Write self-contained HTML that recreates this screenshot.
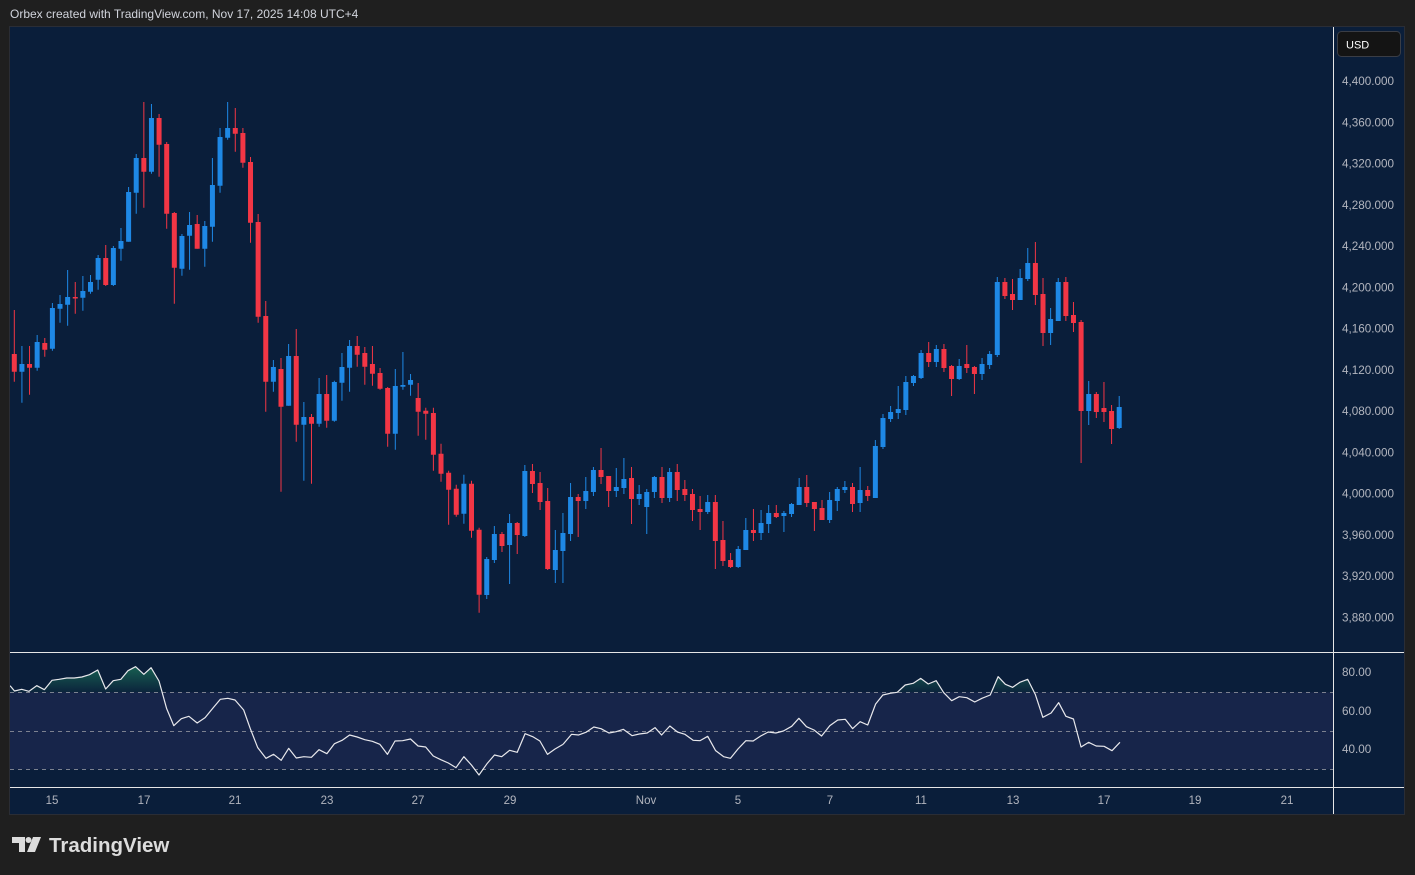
<!DOCTYPE html>
<html><head><meta charset="utf-8"><style>
html,body{margin:0;padding:0;background:#1f1f1f;}
svg{display:block;}
text{font-family:"Liberation Sans",sans-serif;}
</style></head><body>
<svg width="1415" height="875" viewBox="0 0 1415 875" xmlns="http://www.w3.org/2000/svg">
<defs>
<clipPath id="mainclip"><rect x="10" y="27" width="1323" height="625"/></clipPath>
<clipPath id="rsiclip"><rect x="10" y="653" width="1323" height="134"/></clipPath>
<clipPath id="above70"><rect x="-20" y="0" width="1620" height="112"/></clipPath>
<linearGradient id="gfill" gradientUnits="userSpaceOnUse" x1="0" y1="30" x2="0" y2="112">
<stop offset="0" stop-color="#27a86b" stop-opacity="0.5"/>
<stop offset="1" stop-color="#27a86b" stop-opacity="0.04"/>
</linearGradient>
</defs>
<rect x="0" y="0" width="1415" height="875" fill="#1f1f1f"/>
<text x="10" y="18" font-size="12" fill="#d1d4dc">Orbex created with TradingView.com, Nov 17, 2025 14:08 UTC+4</text>
<!-- frame -->
<rect x="9" y="26" width="1396" height="789" fill="#2a2d35"/>
<rect x="10" y="27" width="1394" height="787" fill="#0a1e3a"/>
<!-- RSI band -->
<rect x="10" y="692.3" width="1323" height="77" fill="#17254a"/>
<g stroke="#7c8190" stroke-width="1" stroke-dasharray="4 4">
<line x1="10" y1="692.5" x2="1333" y2="692.5"/>
<line x1="10" y1="731.5" x2="1333" y2="731.5"/>
<line x1="10" y1="769.5" x2="1333" y2="769.5"/>
</g>
<!-- candles -->
<g clip-path="url(#mainclip)">
<g transform="translate(6.68 0) scale(7.62 1)" fill="none">
<path stroke="#1e88e5" stroke-width="0.1312" d="M2 346V402.7M4 335V370.7M6 303V350.7M7 295V322.7M8 270V325.7M10 276V310.7M11 275V293.7M12 255V289.7M14 246V286M15 228V260.7M16 187V241.7M17 154V213.7M19 104V173.7M23 234V275.7M24 212V269.7M26 221V266.7M27 158V241.7M28 128V192.7M29 102V139.7M35 360V391.7M37 344V405.7M39 402V480.7M41 378V426.7M43 380.7V421.7M44 353V400.7M45 340V391.7M51 369V449.7M52 352V389.7M53 374V395.7M60 474.7V523.7M63 557V599M64 526V563M66 514V584M68 465V537M72 530V583M73 513V583M74 483V541M76 477V509M77 467V496M80 468V497M81 458V494M83 485V505M84 489V534M85 476V498M87 468V502M92 495V514M96 546V568M97 518V550M99 510V540M100 505V533M102 511V532M103 503V517M104 478V505M108 492V523M109 487V511M110 481V493M112 467V512M114 440V498M115 414V449M116 406V422M117 386V419M118 376V415M119 375V386M120 350V379M122 345V367M125 359V380M128 358V380M129 351V369M130 277V357M133 269V300M134 248V281M137 308V345M138 278V321M142 381V425M146 396V429"/>
<path stroke="#1e88e5" stroke-width="0.6562" d="M2 364V371.7M4 342V367.7M6 308V348.7M7 304V308.7M8 297V304.7M10 291V297.7M11 282V291.7M12 258V279.7M14 248V285M15 241V248.7M16 192V241.7M17 158V192.7M19 118V171.7M23 236V268.7M24 225V235.7M26 226V248.7M27 185V226.7M28 137V185.7M29 128V137.7M35 367V381.7M37 356V405.7M39 417V424.7M41 394V423.7M43 382V420.7M44 367V382.7M45 346V367.7M51 386V433.7M52 385V386.7M53 380V384.7M60 483.7V513.7M63 559V595M64 534V560M66 523V545M68 471V536M72 550V570M73 533V551M74 497V534M76 491V501M77 470V492M80 487V491M81 479V488M83 494V499M84 492V507M85 477V492M87 472V498M92 502V512M96 549V567M97 530V550M99 523V533M100 513V524M102 513V516M103 504V514M104 487V505M108 500V520M109 489V501M110 487V490M112 490V503M114 446V498M115 418V447M116 412V419M117 409V413M118 382V410M119 376V383M120 353V378M122 349V362M125 366V379M128 364V374M129 354V365M130 282V355M133 278V300M134 263V279M137 319V333M138 282V321M142 394V411M146 407V428"/>
<path stroke="#f23645" stroke-width="0.1312" d="M1 310V381.7M3 346V394.7M5 338V356.7M9 282V313.7M13 245V286M18 102V207.7M20 114V176.7M21 142V228.7M22 212V303.7M25 215V248.7M30 108V151.7M31 128V167.7M32 157V242.7M33 214V322.7M34 301V411.7M36 358V491.7M38 329V441.7M40 414V483.7M42 375V427.7M46 336V366.7M47 347V384.7M48 346V385.7M49 368V389.7M50 387V446.7M54 383V435.7M55 407.7V439.7M56 407.7V470.7M57 443.7V481.7M58 470.7V524.7M59 484.7V516.7M61 480.7V537.7M62 527.7V612.7M65 532V552M67 522V554M69 464V493M70 472V510M71 488V570M75 494V537M78 448V484M79 476V507M82 467V524M86 467V503M88 464V501M89 480V501M90 489V521M91 496V530M93 495V569M94 521V566M95 553V568M98 509V541M101 505V518M105 475V507M106 502V531M107 500V520M111 483V512M113 486V501M121 342V367M123 344V372M124 365V396M126 345V373M127 366V394M131 278V299M132 279V310M135 242V305M136 278V346M139 277V321M140 302V332M141 320V463M143 392V418M144 382V422M145 405V444"/>
<path stroke="#f23645" stroke-width="0.6562" d="M1 354V371.7M3 364V367.7M5 343V349.7M9 297V298.5M13 258V285M18 158V171.7M20 118V144.7M21 144V213.7M22 213V267.7M25 224V248.7M30 128V133.7M31 133V162.7M32 162V222.7M33 222V316.7M34 316V381.7M36 369V406.7M38 356V424.7M40 417V423.7M42 394V420.7M46 346V354.7M47 353V366.7M48 364V373.7M49 373V388.7M50 388V433.7M54 398V411.7M55 410.7V413.7M56 413V454.7M57 453.7V473.7M58 472.7V489.7M59 488.7V514.7M61 483.7V530.7M62 529.7V594.7M65 534V546M67 523V535M69 471V484M70 483V502M71 501V569M75 497V501M78 470V477M79 476V491M82 478V499M86 477V498M88 472V490M89 489V495M90 494V510M91 509V512M93 502V541M94 540V561M95 560V567M98 530V533M101 513V517M105 487V503M106 502V509M107 508V520M111 487V504M113 490V496M121 353V362M123 349V368M124 366V379M126 364V368M127 367V374M131 282V296M132 294V300M135 263V295M136 294V333M139 282V316M140 315V323M141 322V411M143 394V412M144 408V412M145 411V429"/>
</g>
</g>
<!-- RSI -->
<g clip-path="url(#rsiclip)">
<g transform="translate(8 655) scale(0.36036 0.33333)">
<path clip-path="url(#above70)" fill="url(#gfill)" d="M8 95L18 108L38 103L58 109L80 92L101 104L122 76L142 73L163 69L184 69L205 66L226 59L249 45L271 102L292 77L313 73L333 47L354 35L377 58L397 38L419 78L440 160L460 212L460 112L8 112Z"/>
<polyline fill="none" stroke="#e8e8ec" stroke-width="1.2" vector-effect="non-scaling-stroke" stroke-linejoin="round" points="0,88 8,95 18,108 38,103 58,109 80,92 101,104 122,76 142,73 163,69 184,69 205,66 226,59 249,45 271,102 292,77 313,73 333,47 354,35 377,58 397,38 419,78 440,160 460,212 481,191 502,184 525,204 547,188 568,160 589,133 610,130 630,135 654,165 672,220 693,278 716,310 737,298 758,316 779,280 800,309 821,305 842,307 863,284 885,296 906,266 927,256 948,240 969,246 990,254 1011,259 1032,268 1053,298 1074,258 1095,257 1117,252 1138,273 1159,276 1180,303 1201,314 1222,324 1243,338 1265,305 1286,330 1307,360 1330,325 1350,300 1370,305 1392,286 1413,292 1435,236 1456,245 1476,258 1497,298 1518,282 1540,268"/>
</g>
<g transform="translate(565 655) scale(0.36036 0.33333)">
<path clip-path="url(#above70)" fill="url(#gfill)" d="M902 115L922 112L944 90L966 85L987 70L1008 87L1030 77L1051 113L1051 112ZM1180 120L1202 65L1222 88L1242 97L1262 82L1284 73L1305 118L1305 112L1180 112Z"/>
<polyline fill="none" stroke="#e8e8ec" stroke-width="1.2" vector-effect="non-scaling-stroke" stroke-linejoin="round" points="-5.55,268 18,238 38,240 58,232 80,216 100,221 122,234 142,230 162,223 186,242 206,237 228,234 250,218 268,240 291,213 312,231 333,238 356,256 375,257 396,244 418,287 440,305 459,310 480,282 502,257 522,258 543,243 564,231 585,234 606,228 629,214 649,190 670,215 691,225 712,243 735,212 757,195 778,193 798,221 819,200 840,210 862,147 882,120 902,115 922,112 944,90 966,85 987,70 1008,87 1030,77 1051,113 1073,137 1094,125 1115,128 1137,141 1157,130 1180,120 1202,65 1222,88 1242,97 1262,82 1284,73 1305,118 1326,187 1349,174 1370,143 1390,184 1411,192 1432,276 1453,262 1474,273 1496,274 1518,287 1540,262"/>
</g>
</g>
<!-- separators -->
<g stroke="#e6e6e6" stroke-width="1">
<line x1="10" y1="652.5" x2="1404" y2="652.5"/>
<line x1="10" y1="787.5" x2="1404" y2="787.5"/>
<line x1="1333.5" y1="27" x2="1333.5" y2="814"/>
</g>
<!-- USD badge -->
<rect x="1337.5" y="31.5" width="63" height="25" rx="4" fill="#141414" stroke="#3a3d45"/>
<text x="1346" y="48.5" font-size="11" fill="#ffffff">USD</text>
<!-- price labels -->
<g font-size="11.7" fill="#b2b5be">
<text x="1342" y="85">4,400.000</text>
<text x="1342" y="126.3">4,360.000</text>
<text x="1342" y="167.5">4,320.000</text>
<text x="1342" y="208.8">4,280.000</text>
<text x="1342" y="250.1">4,240.000</text>
<text x="1342" y="291.3">4,200.000</text>
<text x="1342" y="332.6">4,160.000</text>
<text x="1342" y="373.9">4,120.000</text>
<text x="1342" y="415.2">4,080.000</text>
<text x="1342" y="456.4">4,040.000</text>
<text x="1342" y="497.7">4,000.000</text>
<text x="1342" y="539">3,960.000</text>
<text x="1342" y="580.2">3,920.000</text>
<text x="1342" y="621.5">3,880.000</text>
<text x="1342" y="676">80.00</text>
<text x="1342" y="715">60.00</text>
<text x="1342" y="753">40.00</text>
</g>
<!-- time labels -->
<g font-size="11.5" fill="#b2b5be" text-anchor="middle">
<text x="52" y="804">15</text>
<text x="144" y="804">17</text>
<text x="235" y="804">21</text>
<text x="327" y="804">23</text>
<text x="418" y="804">27</text>
<text x="510" y="804">29</text>
<text x="646" y="804">Nov</text>
<text x="738" y="804">5</text>
<text x="830" y="804">7</text>
<text x="921" y="804">11</text>
<text x="1013" y="804">13</text>
<text x="1104" y="804">17</text>
<text x="1195" y="804">19</text>
<text x="1287" y="804">21</text>
</g>
<!-- TradingView logo -->
<g fill="#dcdcdc">
<path d="M12 837H25V852H19V843H12Z"/>
<circle cx="28.5" cy="840" r="3"/>
<path d="M33 837H41L35 852H27Z"/>
</g>
<text x="49" y="852" font-size="20.5" font-weight="bold" fill="#dcdcdc">TradingView</text>
</svg>
</body></html>
